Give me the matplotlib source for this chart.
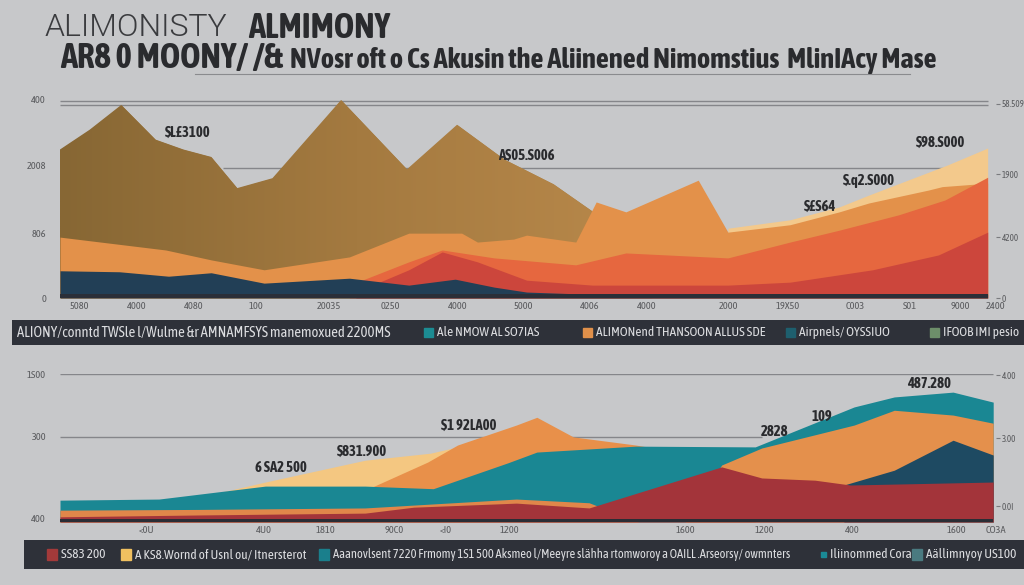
import numpy as np
import matplotlib.pyplot as plt
from matplotlib.patches import Rectangle
from matplotlib.colors import LinearSegmentedColormap

plt.rcParams['font.family'] = ['Asap Condensed', 'Liberation Sans', 'DejaVu Sans']

BG = '#c7c8ca'

# ---- top panel data (x: 0..100, y: 0..400) ----
top_brown_x = [0, 3.2, 6.6, 10.3, 13.3, 16.3, 19.1, 22.9, 30.3, 37.4, 42.8, 47.9, 53.2, 57.4, 61.7, 63.8]
top_brown_y = [300, 340, 390, 320, 300, 285, 222, 242, 400, 260, 350, 280, 230, 175, 97, 0]

top_yellow_x = [72, 78.7, 84, 87.2, 95.7, 100]
top_yellow_y = [141, 158, 184, 208, 269, 303]

top_orange_x = [0, 11.4, 16.3, 22, 31.2, 37.6, 43.3, 45, 48.9, 50.3, 55.6, 57.8, 61, 68.8, 72, 78.7, 84, 87.2, 93.6, 95.1, 100]
top_orange_y = [123, 97, 77, 57, 83, 131, 131, 113, 119, 127, 113, 194, 174, 238, 133, 148, 174, 192, 218, 225, 232]

top_redorange_x = [31.2, 37.6, 41.2, 46.8, 55.6, 61, 72, 78.7, 84, 90.4, 95.4, 100]
top_redorange_y = [26, 73, 97, 81, 67, 91, 81, 113, 137, 168, 198, 244]

top_red_x = [31.9, 37.6, 41.2, 45, 50.3, 57.4, 72, 78.7, 87.6, 94.7, 100]
top_red_y = [12, 57, 93, 73, 36, 26, 26, 32, 57, 87, 133]

top_navy_x = [0, 6.4, 11.7, 16.3, 22, 31.2, 37.6, 42.6, 46.8, 50.3, 56.4, 100]
top_navy_y = [55, 53, 44, 51, 30, 40, 26, 38, 22, 12, 8, 8]

top_base_x = [0, 100]
top_base_y = [9, 9]

top_xticks = [2.1, 8.3, 14.4, 21.1, 29, 35.6, 42.9, 50, 57.1, 63.3, 72.1, 78.4, 85.7, 91.6, 97.1, 100.9]
top_xlabels = ['5080', '4000', '4080', '100', '20035', '0250', '4000', '5000', '4006', '4000',
               '2000', '19X50', 'C003', 'S01', '9000', '2400']
top_lticks = [0, 131, 267, 400]
top_llabels = ['0', '806', '2008', '400']
top_rticks = [0, 123, 250, 392]
top_rlabels = ['0', '4200', '1900', '58.509']

top_notes = [('$L£3100', 13.8, 333), ('A$05.S006', 50.3, 287), ('$98.S000', 94.9, 313),
             ('$.q2.S000', 87.2, 236), ('$£S64', 81.9, 184)]

top_legend = [('ALIONY/conntd TWSle l/Wulme &r AMNAMFSYS manemoxued 2200MS', None),
              ('Ale NMOW AL SO7IAS', '#1c8c93'),
              ('ALIMONend THANSOON ALLUS SDE', '#e0904a'),
              ('Airpnels/ OYSSIUO', '#1e5f6e'),
              ('IFOOB IMI pesio', '#6d8f6a')]

# ---- bottom panel data (x: 0..100, y: 0..400) ----
bot_yellow_x = [12, 22, 32.7, 39.7, 44.7]
bot_yellow_y = [50, 108, 167, 186, 215]

bot_orangeA_x = [0, 14.9, 25.5, 32.7, 39.4, 42.6, 48.9, 51.1, 55, 61.7, 68.1, 74.5]
bot_orangeA_y = [30, 32, 40, 86, 162, 208, 262, 283, 230, 208, 181, 140]

bot_teal_x = [0, 10.6, 22, 32.7, 40, 48, 51.1, 61.7, 74.5, 85.1, 89.4, 95.7, 100]
bot_teal_y = [59, 62, 97, 97, 90, 160, 189, 205, 203, 311, 338, 351, 324]

bot_lowband_x = [0, 14.9, 32.7, 48.9, 56.7, 62]
bot_lowband_y = [32, 34, 38, 62, 52, 0]

bot_orangeB_x = [67, 70.9, 75.2, 85.1, 89.4, 95.7, 100]
bot_orangeB_y = [0, 154, 200, 262, 302, 289, 267]

bot_navy_x = [84, 89.4, 95.7, 100]
bot_navy_y = [100, 140, 221, 181]

bot_red_x = [0, 14.9, 32.7, 37.9, 48.9, 56.7, 70.9, 75.2, 80.9, 84.7, 100]
bot_red_y = [14, 19, 24, 40, 51, 38, 149, 119, 113, 100, 108]

bot_base_x = [0, 100]
bot_base_y = [8, 8]

bot_xticks = [9.3, 21.8, 28.4, 35.8, 41.3, 48.2, 67, 75.5, 84.9, 96.1, 100.3]
bot_xlabels = ['<0U', '4U0', '1810', '90C0', '<I0', '1200', '1600', '1200', '400', '1600', 'CO3A']
bot_lticks = [10, 230, 400]
bot_llabels = ['400', '300', '1S00']
bot_rticks = [43, 227, 397]
bot_rlabels = ['0.0I', '3.00', '4.00']

bot_notes = [('$1 92LA00', 43.8, 259), ('$831.900', 32.4, 189), ('6 SA2 500', 23.7, 146),
             ('2828', 76.6, 243), ('109', 81.6, 284), ('487.280', 93.1, 373)]

bot_legend = [('SS83 200', '#a33a3a'),
              ('A KS8.Wornd of Usnl ou/ Itnersterot', '#f0c060'),
              ('Aaanovlsent 7220 Frmomy 1S1 500 Aksmeo l/Meeyre slähha rtomworoy a OAILL .Arseorsy/ owmnters', '#1a7f8c'),
              ('Iliinommed Cora', '#1a8a96'),
              ('Aällimnyoy US100', '#4a7a80')]


def setup_axes(ax, xt, xl, lt, ll, rt, rl):
    ax.set_xlim(0, 100)
    ax.set_ylim(0, 400)
    ax.set_facecolor('none')
    for s in ax.spines.values():
        s.set_visible(False)
    ax.set_xticks(xt, xl)
    ax.set_yticks(lt, ll)
    ax.tick_params(axis='x', length=0, pad=3, labelsize=7.5, labelcolor='#5a5b5e')
    ax.tick_params(axis='y', length=0, pad=10, labelsize=7.5, labelcolor='#5a5b5e')
    rax = ax.twinx()
    rax.set_ylim(0, 400)
    for s in rax.spines.values():
        s.set_visible(False)
    rax.set_yticks(rt, rl)
    rax.tick_params(axis='y', length=3, width=0.8, color='#7a7b7e', pad=1,
                    labelsize=6.5, labelcolor='#5a5b5e')


def legend_bar(rect, items, x_pos, sq_w, sizes):
    lax = fig.add_axes(rect)
    lax.set_facecolor('#2e3139')
    lax.set_xticks([])
    lax.set_yticks([])
    for s in lax.spines.values():
        s.set_visible(False)
    lax.set_xlim(0, 1)
    lax.set_ylim(0, 1)
    for (label, color), xp, size, w in zip(items, x_pos, sizes, sq_w):
        tx = xp
        if color is not None:
            lax.add_patch(Rectangle((xp, 0.5 - w * 20), w, w * 40, color=color))
            tx = xp + w + 0.004
        lax.text(tx, 0.5, label, color='#dcdde0', fontsize=size, va='center', ha='left')


fig = plt.figure(figsize=(10.24, 5.85), dpi=100, facecolor=BG)

# title
fig.text(45 / 1024, 1 - 28 / 585, 'ALIMONISTY', family=['Roboto', 'DejaVu Sans'], fontweight=300,
         fontsize=23, color='#3a3b3e', va='center')
fig.text(248 / 1024, 1 - 28 / 585, 'ALMIMONY', fontweight='bold', fontsize=25,
         color='#2a2b2e', va='center')
fig.text(60 / 1024, 1 - 58 / 585, 'AR8 0 MOONY/ /&', fontweight='bold', fontsize=25,
         color='#2a2b2e', va='center')
fig.text(290 / 1024, 1 - 60 / 585, 'NVosr oft o Cs Akusin the Aliinened Nimomstius  MlinIAcy Mase',
         fontweight='bold', fontsize=20.5, color='#2a2b2e', va='center')
fig.add_artist(plt.Line2D([195 / 1024, 910 / 1024], [1 - 74 / 585, 1 - 74 / 585],
                          color='#8a8b8e', lw=0.8))

# top panel
ax1 = fig.add_axes([60 / 1024, 1 - 298 / 585, 936 / 1024, 198 / 585])
ax1.hlines([398, 390], 0, 100, color='#85868a', lw=1, zorder=0)
ax1.hlines(263, 17.6, 95.2, color='#85868a', lw=1, zorder=0)
brown = ax1.fill_between(top_brown_x, top_brown_y, color='#a07a40', lw=0, zorder=1)
brown_cmap = LinearSegmentedColormap.from_list('brown', ['#876734', '#a47a40', '#b9894b'])
grad = ax1.imshow(np.linspace(0, 1, 256)[None, :], extent=[0, 64, 0, 400], aspect='auto',
                  cmap=brown_cmap, zorder=1.5)
grad.set_clip_path(brown.get_paths()[0], transform=ax1.transData)
ax1.fill_between(top_yellow_x, top_yellow_y, color='#f3c98c', lw=0, zorder=2)
ax1.fill_between(top_orange_x, top_orange_y, color='#e3914a', lw=0, zorder=3)
ax1.fill_between(top_redorange_x, top_redorange_y, color='#e6673f', lw=0, zorder=4)
ax1.fill_between(top_red_x, top_red_y, color='#cc463c', lw=0, zorder=5)
ax1.fill_between(top_navy_x, top_navy_y, color='#223f56', lw=0, zorder=6)
ax1.fill_between(top_base_x, top_base_y, color='#2b2f38', lw=0, zorder=7)
for label, x, y in top_notes:
    ax1.text(x, y, label, fontsize=10.5, fontweight='bold', color='#2a2b2e', ha='center', va='center', zorder=10)
setup_axes(ax1, top_xticks, top_xlabels, top_lticks, top_llabels, top_rticks, top_rlabels)

legend_bar([12 / 1024, 1 - 345 / 585, 1012 / 1024, 25 / 585], top_legend,
           [0.005, 0.407, 0.564, 0.765, 0.907], [0.009, 0.009, 0.009, 0.009, 0.009],
           [10.5, 9.5, 9.5, 9.5, 9.5])

# bottom panel
ax2 = fig.add_axes([60 / 1024, 1 - 522 / 585, 936 / 1024, 148 / 585])
ax2.hlines(400, 0, 100, color='#85868a', lw=1, zorder=0)
ax2.hlines(230, 0, 75.2, color='#85868a', lw=1, zorder=0)
ax2.fill_between(bot_yellow_x, bot_yellow_y, color='#f4c781', lw=0, zorder=1)
ax2.fill_between(bot_orangeA_x, bot_orangeA_y, color='#e8904a', lw=0, zorder=2)
ax2.fill_between(bot_teal_x, bot_teal_y, color='#1a8793', lw=0, zorder=3)
ax2.fill_between(bot_lowband_x, bot_lowband_y, color='#e0874a', lw=0, zorder=3.5)
ax2.fill_between(bot_orangeB_x, bot_orangeB_y, color='#e4904c', lw=0, zorder=4)
ax2.fill_between(bot_navy_x, bot_navy_y, color='#1e4a62', lw=0, zorder=5)
ax2.fill_between(bot_red_x, bot_red_y, color='#a3343a', lw=0, zorder=6)
ax2.fill_between(bot_base_x, bot_base_y, color='#2a2d35', lw=0, zorder=7)
for label, x, y in bot_notes:
    ax2.text(x, y, label, fontsize=10.5, fontweight='bold', color='#2a2b2e', ha='center', va='center', zorder=10)
setup_axes(ax2, bot_xticks, bot_xlabels, bot_lticks, bot_llabels, bot_rticks, bot_rlabels)

legend_bar([24 / 1024, 1 - 569 / 585, 1000 / 1024, 29 / 585], bot_legend,
           [0.023, 0.097, 0.295, 0.797, 0.888], [0.01, 0.01, 0.01, 0.005, 0.01],
           [9.5, 9.5, 9.0, 9.5, 9.5])

fig.savefig('out.png', dpi=100, facecolor=BG)
